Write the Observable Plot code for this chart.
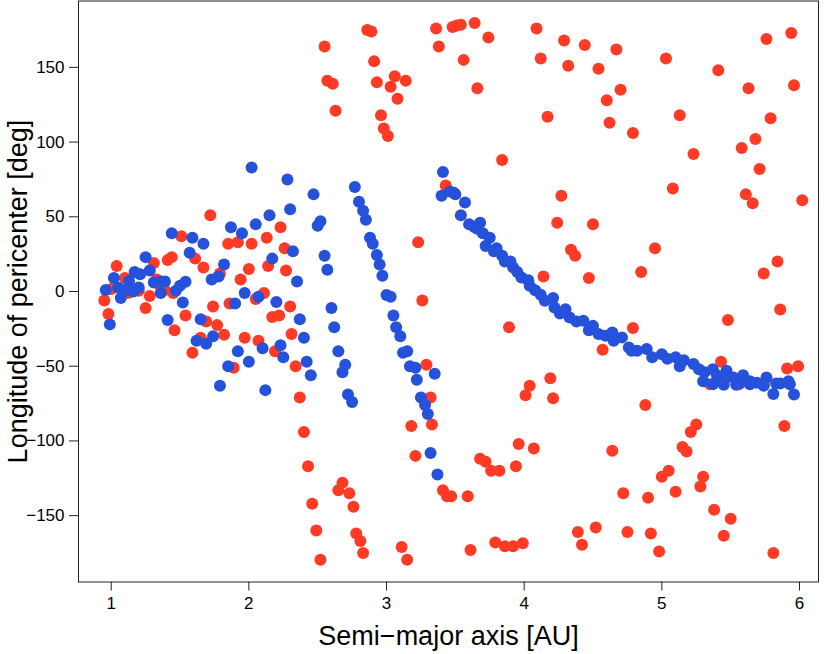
<!DOCTYPE html>
<html>
<head>
<meta charset="utf-8">
<script src="https://cdn.jsdelivr.net/npm/d3@7"></script>
<script src="https://cdn.jsdelivr.net/npm/@observablehq/plot@0.6"></script>
<style>
  html, body { margin: 0; padding: 0; background: #fff; }
  #chart { width: 830px; height: 654px; }
  svg { font-family: "Liberation Sans", Arial, Helvetica, sans-serif; }
</style>
</head>
<body>
<div id="chart"></div>
<script>
// Red population: semi-major axis [AU] and longitude of pericenter [deg]
const redA = [
  2.55,2.86,2.89,3.36,3.38,2.91,2.57,2.61,2.93,3.06,3.14,3.03,3.08,2.63,2.96,2.98,3.01,3.43,
  3.48,3.51,3.54,3.64,3.74,4.09,4.29,4.44,4.67,3.56,4.12,4.32,4.54,3.66,4.70,4.60,4.17,4.62,4.79,3.84,4.27,
  5.94,5.76,5.03,5.41,5.63,5.96,5.13,5.79,5.68,5.58,5.23,5.71,5.08,5.61,5.66,6.02,
  4.95,4.85,5.84,5.74,5.86,5.48,4.79,5.43,5.91,5.99,5.35,5.56,
  4.24,4.50,4.34,4.37,4.14,4.47,3.89,4.57,4.19,4.04,4.01,4.21,3.96,4.07,3.68,3.72,3.76,3.82,3.94,4.64,
  3.47,3.59,4.72,4.39,4.52,4.42,4.75,3.61,3.79,3.86,3.92,3.99,
  4.88,5.25,5.21,5.15,5.18,5.89,5.05,5.00,5.30,5.28,5.10,4.90,5.38,5.50,5.45,4.92,4.98,5.81,
  2.37,2.40,2.43,2.46,2.49,2.52,2.68,2.65,2.73,2.76,2.78,2.81,2.83,3.11,3.15,
  3.32,3.18,3.33,3.21,3.41,3.44,3.23,3.26,3.29,
  2.23,2.13,2.26,2.14,2.27,2.11,2.30,2.17,2.22,2.31,2.19,2.34,
  1.72,1.51,1.85,1.92,2.02,1.04,1.31,1.41,1.44,1.61,1.67,1.79,2.00,1.94,1.10,1.33,1.36,1.00,0.95,0.98,
  1.12,1.20,1.28,1.25,1.39,1.45,1.54,1.46,1.74,1.86,2.05,1.69,1.77,1.82,1.97,2.07,1.65,1.59,1.89
];
const redW = [
  164,175,174,176,164,154,141,139,140,144,141,137,129,121,118,109,104,71,
  177,178,178.5,179.6,170,176,168,165,162,155,156,151,149,136,135,128,117,113,106,88,64,
  173,169,156,148,136,138,118,116,102,96,92,82,69,65,59,61,
  29,13,20,12,-12,-19,-24.5,-47,-51.5,-50,-62,-62,
  46,45,28,24,10,9,-24,-39,-58,-63,-69.5,-71.5,-102,-105,-112,-114,-120,-120,-117,-106.5,
  -137,-137,-135,-161,-158,-169.5,-161,-173,-168,-170.5,-170.5,-168.5,
  -76,-89,-94,-104,-107,-90,-120,-124,-124,-130.5,-134,-138,-146,-152,-163.5,-162,-174,-175,
  -71,-94,-117,-142,-160,-179.5,-128,-133,-135,-144,-162,-167,-175,-171,-179.5,
  -71,-90,-89,-110,-133,-137,33,-6,-49,
  43,36,29,17,14,-1,-10,-17,-16,-28.5,-40,-50,
  51,37,32,33,32,17,19,21,23,22,16,12,15,8,9,8,3,1.6,-6,-15,
  -1,0.5,-3,-11,1,-1,-16,-26,-10,-8,-5,-20,-22.5,-29,-31,-33,-31,-41,-51
];
// Blue population
const blueA = [
  2.02,2.28,2.47,2.77,1.44,1.59,1.67,1.87,1.95,2.05,1.57,1.25,1.28,1.17,1.21,1.02,1.13,0.96,1.05,1.10,
  1.07,1.16,1.20,1.31,1.36,1.39,1.36,1.47,1.50,1.54,1.52,1.41,0.99,1.82,1.73,1.78,1.97,2.07,1.90,1.65,
  1.74,1.69,1.62,1.92,2.00,1.85,1.79,2.10,2.12,2.30,2.52,2.50,2.55,2.57,2.35,2.15,2.17,2.32,2.20,2.37,
  2.40,2.23,2.25,2.42,2.45,2.60,2.62,2.65,2.70,2.68,2.72,2.75,
  2.80,2.83,2.85,2.88,2.90,2.93,2.95,2.97,3.00,3.03,3.05,3.07,3.10,3.12,3.15,3.17,3.21,3.22,3.25,3.28,
  3.30,3.32,3.37,3.35,
  3.41,3.40,3.46,3.49,3.50,3.57,3.54,3.60,3.64,3.68,3.66,3.70,3.75,3.72,3.80,3.78,3.84,3.86,3.90,3.92,
  3.95,3.98,4.03,4.04,4.08,4.12,4.15,4.21,4.22,4.26,4.30,4.33,4.38,4.43,4.47,4.50,4.54,4.59,4.64,4.65,
  4.71,4.76,4.78,4.82,4.89,4.93,5.00,5.04,5.10,5.16,5.13,5.23,5.27,5.31,5.37,5.40,5.45,5.47,5.52,5.59,
  5.57,5.64,5.69,5.76,5.74,5.83,5.92,5.30,5.37,5.45,5.54,5.64,5.74,5.86,5.93,5.81,5.96
];
const blueW = [
  83,75,65,70,39,36,32,43,39,45,26,23,14,13,11.6,9,7,1,2.7,1,
  -4.4,0,2.7,6,6.7,6.7,-1,0.5,3.8,6.5,-7.4,-19,-22,18,8,10,-1,-3.5,-8,-18.5,
  -30,-35,-33,-40,-47,-50,-63,-38,-66,55,47,44,24,14.5,6.7,51,22,27,-7,-18.5,
  -31,-36,-44,-47,-56,-11,-24,-40,-49,-54,-69,-74,
  60,54,48,36,32,24.5,18,10.5,-2.4,-3.5,-16,-24,-30,-41,-40,-50,-51,-59,-71,-76,
  -82,-108,-122.5,-55,
  80,64,67,66,65,59.5,51,45,43,46,42,39,36,30.5,29,27,24,20,20,16,
  13,9.4,7.6,3.8,0.9,-2.2,-6.2,-4.4,-10.7,-14.7,-11.8,-17.4,-20,-19.6,-26,-23,-28.5,-29.6,-27.4,-33,
  -30.7,-37.4,-39.6,-39.6,-38.5,-44,-42,-45,-44,-46,-50,-48.5,-52,-54,-52,-56,-60,-53,-57.5,-56,
  -61,-60,-61,-57.5,-63,-61.5,-60,-60,-62,-62.4,-62.4,-62,-62,-61.5,-62,-68.6,-69
];
const xTicks = [1, 2, 3, 4, 5, 6];
const yTicks = [-150, -100, -50, 0, 50, 100, 150];
const xTitle = "Semi\u2212major axis [AU]";
const yTitle = "Longitude of pericenter [deg]";

const red = redA.map((a, i) => ({a, w: redW[i]}));
const blue = blueA.map((a, i) => ({a, w: blueW[i]}));

const chart = Plot.plot({
  width: 830,
  height: 654,
  marginLeft: 78,
  marginRight: 12,
  marginTop: 0.5,
  marginBottom: 72.5,
  style: {fontFamily: '"Liberation Sans", Arial, Helvetica, sans-serif', color: "black", background: "white"},
  x: {domain: [0.7625, 6.138]},
  y: {domain: [-194.4, 194.4]},
  marks: [
    Plot.dot(red, {x: "a", y: "w", r: 6, fill: "#FF3B26", stroke: "none"}),
    Plot.dot(blue, {x: "a", y: "w", r: 6, fill: "#2551DB", stroke: "none"}),
    Plot.frame({stroke: "#222", strokeWidth: 1}),
    Plot.axisX(xTicks, {tickSize: 9, tickPadding: 6, fontSize: 17, label: null, stroke: "#222", tickFormat: d => String(d)}),
    Plot.axisY(yTicks, {tickSize: 9, tickPadding: 5, fontSize: 17, label: null, stroke: "#222", tickFormat: d => d < 0 ? "\u2212" + Math.abs(d) : String(d)}),
    Plot.text([xTitle], {frameAnchor: "bottom", dy: 63, fontSize: 27, text: d => d, fill: "black", textAnchor: "middle"}),
    Plot.text([yTitle], {frameAnchor: "left", dx: -60, rotate: -90, fontSize: 27, text: d => d, fill: "black", textAnchor: "middle", lineAnchor: "middle"})
  ]
});
document.getElementById("chart").appendChild(chart);
</script>
</body>
</html>
